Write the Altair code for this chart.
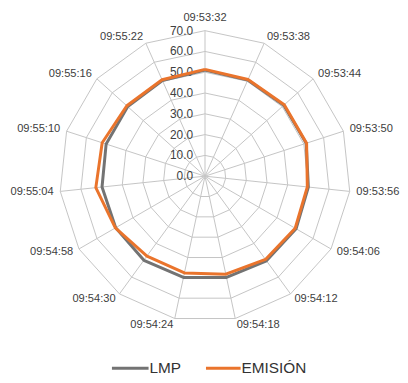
import altair as alt
import pandas as pd

categories = ["09:53:32", "09:53:38", "09:53:44", "09:53:50", "09:53:56",
              "09:54:06", "09:54:12", "09:54:18", "09:54:24", "09:54:30",
              "09:54:58", "09:55:04", "09:55:10", "09:55:16", "09:55:22"]
lmp = [51.0, 50.6, 51.0, 51.2, 50.0, 50.6, 50.3, 49.8, 49.8, 50.0,
       49.6, 49.8, 50.0, 50.0, 50.4]
emision = [51.4, 50.9, 51.3, 51.4, 49.5, 50.1, 49.5, 48.2, 47.6, 47.5,
           49.8, 52.8, 52.0, 50.6, 50.8]
series_names = ["LMP", "EMISIÓN"]
series_colors = ["#737373", "#EA742C"]
ring_values = [10, 20, 30, 40, 50, 60, 70]
tick_values = [0, 10, 20, 30, 40, 50, 60, 70]
tick_labels = ["0.0", "10.0", "20.0", "30.0", "40.0", "50.0", "60.0", "70.0"]

N = len(categories)
SCALE = 2.1
W, H = 396, 372
CX, CY = 199, 168
xs = alt.Scale(domain=[-CX / SCALE, (W - CX) / SCALE], nice=False, zero=False)
ys = alt.Scale(domain=[-(H - CY) / SCALE, CY / SCALE], nice=False, zero=False)
FONT = "Liberation Sans"
TXT = "#404040"
FS = 11.2
ANG = f"datum.idx * 2 * PI / {N}"

# series data (closed polygons)
rows = []
for name, vals in zip(series_names, [lmp, emision]):
    for i in range(N + 1):
        rows.append({"series": name, "idx": i, "v": vals[i % N]})
sdf = pd.DataFrame(rows)

# grid rings
grows = []
for r in ring_values:
    for i in range(N + 1):
        grows.append({"ring": r, "idx": i})
gdf = pd.DataFrame(grows)

spokes = pd.DataFrame({"idx": list(range(N)), "r": [max(ring_values)] * N})
cdf = pd.DataFrame({"cat": categories, "idx": list(range(N))})
tdf = pd.DataFrame({"v": tick_values, "label": tick_labels})
ldf = pd.DataFrame({"series": series_names})

rings = alt.Chart(gdf).transform_calculate(
    x=f"datum.ring * sin({ANG})", y=f"datum.ring * cos({ANG})"
).mark_line(color="#c4c4c4", strokeWidth=1).encode(
    x=alt.X("x:Q", scale=xs, axis=None),
    y=alt.Y("y:Q", scale=ys, axis=None),
    detail="ring:N",
    order="idx:Q",
)

spoke = alt.Chart(spokes).transform_calculate(
    x0="0", y0="0", x=f"datum.r * sin({ANG})", y=f"datum.r * cos({ANG})"
).mark_rule(color="#c4c4c4", strokeWidth=1).encode(
    x=alt.X("x0:Q", scale=xs, axis=None),
    y=alt.Y("y0:Q", scale=ys, axis=None),
    x2="x:Q",
    y2="y:Q",
)

ticks = alt.Chart(tdf).mark_text(
    align="right", baseline="middle", font=FONT, fontSize=12, color=TXT
).encode(
    x=alt.value(CX - 12),
    y=alt.Y("v:Q", scale=ys, axis=None),
    text="label:N",
)

def series_layer(name, color):
    return alt.Chart(sdf).transform_filter(
        alt.datum.series == name
    ).transform_calculate(
        x=f"datum.v * sin({ANG})", y=f"datum.v * cos({ANG})"
    ).mark_line(color=color, strokeWidth=3, strokeJoin="round").encode(
        x=alt.X("x:Q", scale=xs, axis=None),
        y=alt.Y("y:Q", scale=ys, axis=None),
        order="idx:Q",
    )

def cat_layer(cond, align, baseline, rad):
    return alt.Chart(cdf).transform_calculate(
        s=f"sin({ANG})", c=f"cos({ANG})"
    ).transform_filter(cond).transform_calculate(
        x=f"{rad} * datum.s", y=f"{rad} * datum.c"
    ).mark_text(align=align, baseline=baseline, font=FONT, fontSize=FS, color=TXT).encode(
        x=alt.X("x:Q", scale=xs, axis=None),
        y=alt.Y("y:Q", scale=ys, axis=None),
        text="cat:N",
    )

lab_left = cat_layer("datum.s > 0.01", "left", "middle", 73.2)
lab_right = cat_layer("datum.s < -0.01", "right", "middle", 73.2)
lab_top = cat_layer("abs(datum.s) <= 0.01", "center", "bottom", 73.5)

LEG_Y = 362
legend_pos = {"LMP": (105, 142, 143), "EMISIÓN": (200, 235, 236)}
leg_layers = []
for name, color in zip(series_names, series_colors):
    x1, x2, tx = legend_pos[name]
    base = alt.Chart(ldf).transform_filter(alt.datum.series == name)
    leg_layers.append(base.mark_rule(color=color, strokeWidth=3).encode(
        x=alt.value(x1), x2=alt.value(x2), y=alt.value(LEG_Y)))
    leg_layers.append(base.mark_text(
        align="left", baseline="middle", font=FONT, fontSize=15.5, color="#333333"
    ).encode(x=alt.value(tx), y=alt.value(LEG_Y), text="series:N"))

chart = alt.layer(
    rings, spoke, ticks,
    series_layer("LMP", series_colors[0]),
    series_layer("EMISIÓN", series_colors[1]),
    lab_left, lab_right, lab_top,
    *leg_layers,
).properties(
    width=W, height=H, padding=0, autosize="none", background="white"
).configure_view(stroke=None)

chart.save("out.html", embed_options={"renderer": "svg", "actions": False})
